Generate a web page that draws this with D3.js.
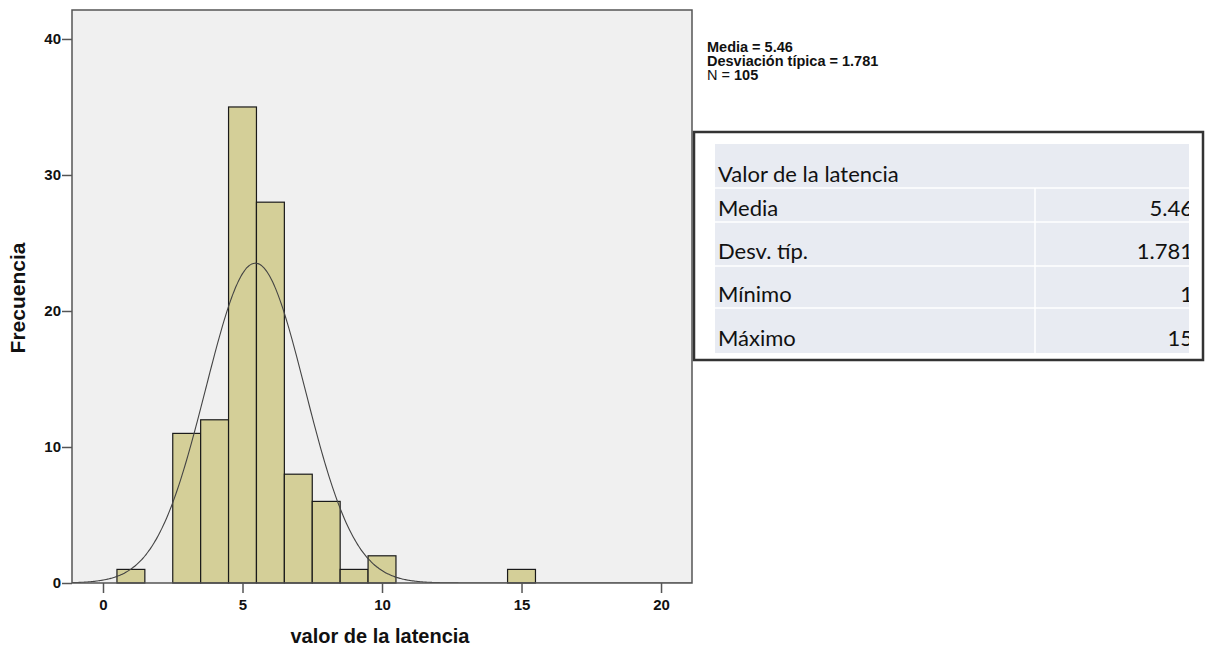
<!DOCTYPE html>
<html>
<head>
<meta charset="utf-8">
<script src="https://cdn.jsdelivr.net/npm/d3@7"></script>
<style>
  html, body { margin: 0; padding: 0; background: #fff; }
  svg { display: block; }
</style>
</head>
<body>
<svg id="chart" width="1205" height="646"></svg>
<script>
// Histogram of latency values (bin width 1, centred on integers)
const binCenters = [1, 3, 4, 5, 6, 7, 8, 9, 10, 15];
const frequencies = [1, 11, 12, 35, 28, 8, 6, 1, 2, 1];
const xTicks = [0, 5, 10, 15, 20];
const yTicks = [0, 10, 20, 30, 40];

// Summary statistics
const mean = 5.46;
const stdDev = 1.781;
const count = 105;
const statLabels = ["Media", "Desv. típ.", "Mínimo", "Máximo"];
const statValues = ["5.46", "1.781", "1", "15"];
const tableTitle = "Valor de la latencia";

const svg = d3.select("#chart");
const plot = { left: 72, top: 10, right: 692, bottom: 583 };

const x = d3.scaleLinear().domain([-1.111, 21.11]).range([plot.left, plot.right]);
const y = d3.scaleLinear().domain([0, 42.13]).range([plot.bottom, plot.top]);

// Plot background
svg.append("rect")
  .attr("x", plot.left).attr("y", plot.top)
  .attr("width", plot.right - plot.left).attr("height", plot.bottom - plot.top)
  .attr("fill", "#f0f0f0");

svg.append("clipPath").attr("id", "plotClip")
  .append("rect")
  .attr("x", plot.left).attr("y", plot.top)
  .attr("width", plot.right - plot.left).attr("height", plot.bottom - plot.top);

// Bars
svg.append("g").selectAll("rect")
  .data(binCenters.map((c, i) => ({ c, f: frequencies[i] })))
  .join("rect")
  .attr("x", d => x(d.c - 0.5))
  .attr("y", d => y(d.f))
  .attr("width", d => x(d.c + 0.5) - x(d.c - 0.5))
  .attr("height", d => y(0) - y(d.f))
  .attr("fill", "#d4cf98")
  .attr("stroke", "#1a1a1a")
  .attr("stroke-width", 1.2);

// Fitted normal curve scaled to counts (bin width 1)
const [x0, x1] = x.domain();
const curvePts = d3.range(0, 401).map(i => {
  const v = x0 + (x1 - x0) * i / 400;
  const z = (v - mean) / stdDev;
  return [v, count / (stdDev * Math.sqrt(2 * Math.PI)) * Math.exp(-0.5 * z * z)];
});
svg.append("path")
  .datum(curvePts)
  .attr("clip-path", "url(#plotClip)")
  .attr("fill", "none")
  .attr("stroke", "#444")
  .attr("stroke-width", 1.1)
  .attr("d", d3.line().x(d => x(d[0])).y(d => y(d[1])).curve(d3.curveBasis));

// Frame
svg.append("rect")
  .attr("x", plot.left).attr("y", plot.top)
  .attr("width", plot.right - plot.left).attr("height", plot.bottom - plot.top)
  .attr("fill", "none")
  .attr("stroke", "#555")
  .attr("stroke-width", 1.5);

// Axes
const axisFont = "'Liberation Sans', Arial, sans-serif";
const xAxis = svg.append("g")
  .attr("transform", `translate(0,${plot.bottom})`)
  .call(d3.axisBottom(x).tickValues(xTicks).tickSize(10).tickPadding(6).tickSizeOuter(0));
const yAxis = svg.append("g")
  .attr("transform", `translate(${plot.left},0)`)
  .call(d3.axisLeft(y).tickValues(yTicks).tickSize(10).tickPadding(1).tickSizeOuter(0));
[xAxis, yAxis].forEach(a => {
  a.select(".domain").remove();
  a.selectAll(".tick line").attr("stroke", "#555").attr("stroke-width", 1.5);
  a.selectAll(".tick text")
    .attr("fill", "#111")
    .style("font-family", axisFont)
    .style("font-weight", "bold")
    .style("font-size", "15px");
});

// Axis titles
svg.append("text")
  .attr("x", 380).attr("y", 643)
  .attr("text-anchor", "middle")
  .style("font-family", axisFont).style("font-weight", "bold").style("font-size", "20px")
  .attr("fill", "#111")
  .text("valor de la latencia");

svg.append("text")
  .attr("transform", "translate(25,298) rotate(-90)")
  .attr("text-anchor", "middle")
  .style("font-family", axisFont).style("font-weight", "bold").style("font-size", "21px")
  .attr("fill", "#111")
  .text("Frecuencia");

// Statistics note
const note = svg.append("g")
  .style("font-family", axisFont).style("font-size", "14.5px").attr("fill", "#111");
note.append("text").attr("x", 707).attr("y", 52).style("font-weight", "bold")
  .text(`Media = ${mean.toFixed(2)}`);
note.append("text").attr("x", 707).attr("y", 66).style("font-weight", "bold")
  .text(`Desviación típica = ${stdDev.toFixed(3)}`);
const nLine = note.append("text").attr("x", 707).attr("y", 80);
nLine.append("tspan").text("N = ");
nLine.append("tspan").style("font-weight", "bold").text(count);

// Summary table
const tbl = { left: 715, right: 1189, top: 144 };
const rowEdges = [144, 188, 222, 266, 308, 353];
const colSplit = 1035;
const tableFont = "Lato, 'Open Sans', sans-serif";

svg.append("rect")
  .attr("x", 694).attr("y", 132).attr("width", 509).attr("height", 228)
  .attr("fill", "#fff").attr("stroke", "#333").attr("stroke-width", 2.5);

svg.append("rect")
  .attr("x", tbl.left).attr("y", tbl.top)
  .attr("width", tbl.right - tbl.left).attr("height", rowEdges[5] - tbl.top)
  .attr("fill", "#e8ebf2");

// Cell separators
const sep = svg.append("g").attr("stroke", "#fff").attr("stroke-width", 1.5);
rowEdges.slice(1, 5).forEach(r => {
  sep.append("line").attr("x1", tbl.left).attr("x2", tbl.right).attr("y1", r).attr("y2", r);
});
sep.append("line").attr("x1", colSplit).attr("x2", colSplit)
  .attr("y1", rowEdges[1]).attr("y2", rowEdges[5]);

svg.append("clipPath").attr("id", "tableClip")
  .append("rect").attr("x", tbl.left).attr("y", tbl.top)
  .attr("width", tbl.right - tbl.left).attr("height", rowEdges[5] - tbl.top);

const tg = svg.append("g").attr("clip-path", "url(#tableClip)")
  .style("font-family", tableFont).style("font-size", "22px").attr("fill", "#111");
tg.append("text").attr("x", tbl.left + 3).attr("y", 182).text(tableTitle);
const textY = [216, 259, 302, 346];
statLabels.forEach((lab, i) => {
  tg.append("text").attr("x", tbl.left + 3).attr("y", textY[i]).text(lab);
  tg.append("text").attr("x", tbl.right + 4).attr("y", textY[i])
    .attr("text-anchor", "end").text(statValues[i]);
});
</script>
</body>
</html>
